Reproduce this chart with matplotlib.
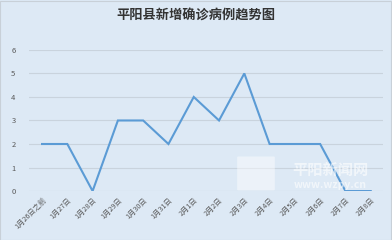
import matplotlib
matplotlib.use("Agg")
import matplotlib.pyplot as plt
from matplotlib.patches import FancyBboxPatch

plt.rcParams["font.family"] = ["Noto Sans CJK SC", "DejaVu Sans"]

dates = ["1月26日之前", "1月27日", "1月28日", "1月29日", "1月30日", "1月31日", "2月1日",
         "2月2日", "2月3日", "2月4日", "2月5日", "2月6日", "2月7日", "2月8日"]
cases = [2, 2, 0, 3, 3, 2, 4, 3, 5, 2, 2, 2, 0, 0]

bg = "#dde9f5"
fig = plt.figure(figsize=(3.92, 2.4), dpi=100, facecolor=bg)
ax = fig.add_axes([0.075, 0.204, 0.903, 0.588])
ax.set_facecolor(bg)

# watermark (behind the line)
fig.patches.append(FancyBboxPatch((0.608, 0.21), 0.09, 0.135, boxstyle="round,pad=0.003",
                                  transform=fig.transFigure, facecolor="white",
                                  edgecolor="none", alpha=0.45, zorder=0.5))
fig.text(0.842, 0.292, "平阳新闻网", ha="center", va="center", fontsize=11,
         fontweight="bold", color="white", alpha=0.6, zorder=0.5)
fig.text(0.842, 0.228, "www.wzpy.cn", ha="center", va="center", fontsize=7.5,
         fontweight="bold", color="white", alpha=0.6, zorder=0.5)
ax.patch.set_alpha(0)

x = list(range(len(dates)))
ax.plot(x, cases, color="#5b9bd5", linewidth=1.5, solid_joinstyle="miter")

ax.set_xlim(-0.5, len(dates) - 0.5)
ax.set_ylim(0, 6)
ax.set_yticks(range(0, 7))
ax.grid(axis="y", color="#c9d3dd", linewidth=0.8)
ax.set_axisbelow(True)
for s in ax.spines.values():
    s.set_visible(False)
ax.tick_params(length=0, colors="#595959", labelsize=5.5)
ax.tick_params(axis="y", pad=10)
ax.set_xticks(x)
ax.set_xticklabels(dates, rotation=45, ha="right", rotation_mode="anchor", fontsize=5.2)

fig.text(0.5, 0.935, "平阳县新增确诊病例趋势图", ha="center", va="center",
         fontsize=9.5, fontweight="bold", color="#333333")

fig.patches.append(plt.Rectangle((0.001, 0.002), 0.997, 0.995, transform=fig.transFigure,
                                 fill=False, edgecolor="#c8d0d8", linewidth=0.8))

fig.savefig("out.png", dpi=100, facecolor=bg)
